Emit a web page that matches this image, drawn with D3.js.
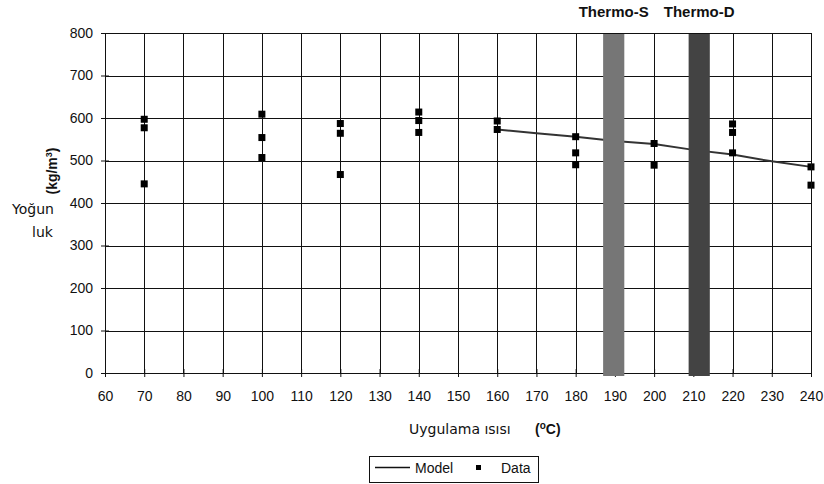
<!DOCTYPE html>
<html>
<head>
<meta charset="utf-8">
<script src="https://cdn.jsdelivr.net/npm/d3@7"></script>
<style>
  html, body { margin: 0; padding: 0; background: #fff; }
  svg { display: block; }
  .tick text { font-family: "Liberation Sans", Arial, sans-serif; font-size: 14px; fill: #111; }
</style>
</head>
<body>
<svg id="chart" width="824" height="484"></svg>
<script>
// measured points
const dataTemp = [70, 70, 70, 100, 100, 100, 120, 120, 120, 140, 140, 140, 160, 160, 180, 180, 180, 200, 200, 220, 220, 220, 240, 240];
const dataDensity = [597, 577, 445, 609, 554, 507, 587, 564, 467, 614, 594, 566, 593, 573, 556, 518, 490, 540, 489, 586, 566, 518, 485, 442];

// model curve
const modelTemp = [160, 170, 180, 190, 200, 210, 220, 230, 240];
const modelDensity = [573, 564, 556, 546, 539, 525, 514, 498, 485];

// thermo bands
const bandNames = ["Thermo-S", "Thermo-D"];
const bandFrom = [187, 208.8];
const bandTo = [192.4, 214.2];

const xTicks = d3.range(60, 241, 10);
const yTicks = d3.range(0, 801, 100);

(() => {
  const width = 824;
  const height = 484;
  const margin = { top: 33, right: 13, bottom: 111, left: 105 };
  const innerW = width - margin.left - margin.right;
  const innerH = height - margin.top - margin.bottom;

  const svg = d3.select("#chart");
  const g = svg.append("g").attr("transform", `translate(${margin.left},${margin.top})`);

  const x = d3.scaleLinear().domain([60, 240]).range([0, innerW]);
  const y = d3.scaleLinear().domain([0, 800]).range([innerH, 0]);
  const bandColor = d3.scaleOrdinal().domain(bandNames).range(["#767676", "#434343"]);

  // grid
  g.append("g")
    .selectAll("line")
    .data(xTicks.slice(1))
    .join("line")
    .attr("x1", (d) => Math.round(x(d)) + 0.5)
    .attr("x2", (d) => Math.round(x(d)) + 0.5)
    .attr("y1", 0)
    .attr("y2", innerH)
    .attr("stroke", "#111")
    .attr("stroke-width", 1);

  g.append("g")
    .selectAll("line")
    .data(yTicks.slice(1))
    .join("line")
    .attr("x1", 0)
    .attr("x2", innerW)
    .attr("y1", (d) => Math.round(y(d)) + 0.5)
    .attr("y2", (d) => Math.round(y(d)) + 0.5)
    .attr("stroke", "#111")
    .attr("stroke-width", 1);

  // axes with cross ticks
  const xAxis = g.append("g")
    .attr("transform", `translate(0,${innerH})`)
    .call(d3.axisBottom(x).tickValues(xTicks).tickSize(4).tickPadding(14).tickFormat(d3.format("d")));
  xAxis.selectAll(".tick line").attr("y1", -4).attr("stroke", "#111");
  xAxis.select(".domain").attr("stroke", "#111");

  const yAxis = g.append("g")
    .call(d3.axisLeft(y).tickValues(yTicks).tickSize(4).tickPadding(8).tickFormat(d3.format("d")));
  yAxis.selectAll(".tick line").attr("x1", 4).attr("stroke", "#111");
  yAxis.select(".domain").attr("stroke", "#111");

  // model line
  const line = d3.line()
    .x((d, i) => x(modelTemp[i]))
    .y((d) => y(d));

  g.append("path")
    .datum(modelDensity)
    .attr("fill", "none")
    .attr("stroke", "#333")
    .attr("stroke-width", 2)
    .attr("d", line);

  // data markers
  g.append("g")
    .selectAll("rect")
    .data(dataDensity)
    .join("rect")
    .attr("x", (d, i) => x(dataTemp[i]) - 3.5)
    .attr("y", (d) => y(d) - 3.5)
    .attr("width", 7)
    .attr("height", 7)
    .attr("fill", "#000");

  // thermo bands
  g.append("g")
    .selectAll("rect")
    .data(bandNames)
    .join("rect")
    .attr("x", (d, i) => x(bandFrom[i]))
    .attr("width", (d, i) => x(bandTo[i]) - x(bandFrom[i]))
    .attr("y", y(800))
    .attr("height", y(0) - y(800) + 3)
    .attr("fill", (d) => bandColor(d));

  g.append("g")
    .selectAll("text")
    .data(bandNames)
    .join("text")
    .attr("x", (d, i) => x((bandFrom[i] + bandTo[i]) / 2))
    .attr("y", -16)
    .attr("text-anchor", "middle")
    .attr("font-family", "Liberation Sans, Arial, sans-serif")
    .attr("font-weight", "bold")
    .attr("font-size", 15)
    .attr("fill", "#111")
    .text((d) => d);

  // plot border (top + right)
  g.append("path")
    .attr("d", `M0,0.5H${innerW + 0.5}V${innerH}`)
    .attr("fill", "none")
    .attr("stroke", "#111");

  // y title
  svg.append("text")
    .attr("transform", "translate(57,171) rotate(-90)")
    .attr("text-anchor", "middle")
    .attr("font-family", "Liberation Sans, Arial, sans-serif")
    .attr("font-weight", "bold")
    .attr("font-size", 14)
    .attr("fill", "#111")
    .html('(kg/m<tspan baseline-shift="super" font-size="9">3</tspan>)');

  svg.append("text")
    .attr("x", 12)
    .attr("y", 214)
    .attr("font-family", "DejaVu Sans, sans-serif")
    .attr("font-size", 14)
    .attr("fill", "#111")
    .text("Yoğun");

  svg.append("text")
    .attr("x", 32)
    .attr("y", 237)
    .attr("font-family", "DejaVu Sans, sans-serif")
    .attr("font-size", 14)
    .attr("fill", "#111")
    .text("luk");

  // x title
  svg.append("text")
    .attr("x", 409)
    .attr("y", 434)
    .attr("font-family", "DejaVu Sans, sans-serif")
    .attr("font-size", 14)
    .attr("fill", "#111")
    .text("Uygulama ısısı");

  svg.append("text")
    .attr("x", 535)
    .attr("y", 434)
    .attr("font-family", "Liberation Sans, Arial, sans-serif")
    .attr("font-weight", "bold")
    .attr("font-size", 14)
    .attr("fill", "#111")
    .html('(<tspan baseline-shift="super" font-size="10">o</tspan>C)');

  // legend
  const legend = svg.append("g").attr("transform", "translate(369,456)");
  legend.append("rect")
    .attr("x", 0.5)
    .attr("y", 0.5)
    .attr("width", 169)
    .attr("height", 26)
    .attr("fill", "#fff")
    .attr("stroke", "#111");
  legend.append("line")
    .attr("x1", 6).attr("x2", 41)
    .attr("y1", 11.5).attr("y2", 11.5)
    .attr("stroke", "#111").attr("stroke-width", 1.5);
  legend.append("text")
    .attr("x", 46).attr("y", 17)
    .attr("font-family", "Liberation Sans, Arial, sans-serif")
    .attr("font-size", 14).attr("fill", "#111")
    .text("Model");
  legend.append("rect")
    .attr("x", 107).attr("y", 9)
    .attr("width", 5).attr("height", 5)
    .attr("fill", "#000");
  legend.append("text")
    .attr("x", 132).attr("y", 17)
    .attr("font-family", "Liberation Sans, Arial, sans-serif")
    .attr("font-size", 14).attr("fill", "#111")
    .text("Data");
})();
</script>
</body>
</html>
